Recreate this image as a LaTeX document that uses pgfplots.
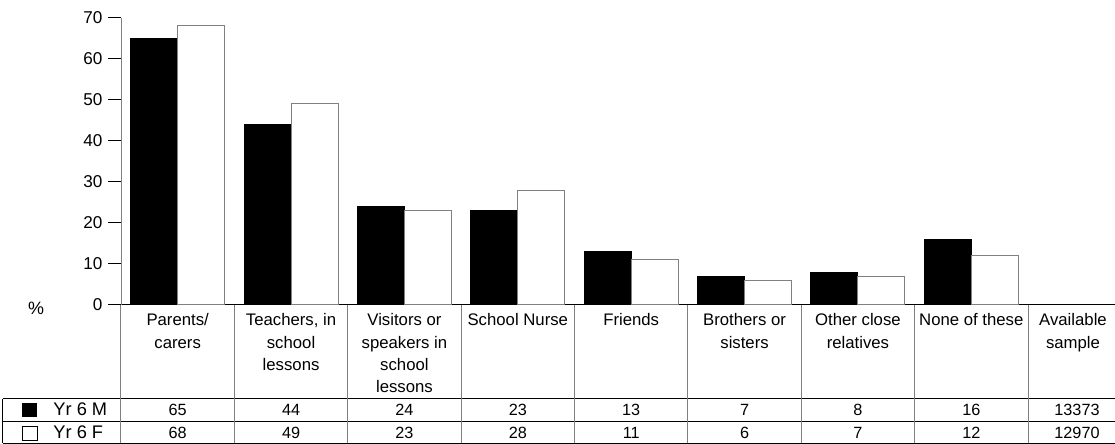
\documentclass[border=0pt]{standalone}
\usepackage{pgfplots}
\pgfplotsset{compat=1.18}
\usepackage{fontspec}
\setmainfont{Liberation Sans}
\usetikzlibrary{calc}

\newcommand\hf{\fontsize{16.8}{19}\selectfont}
\newcommand\nf{\fontsize{16.3}{18}\selectfont}
% header line: column index, line number, text
\newcommand\hdr[3]{\node[anchor=base, inner sep=0pt, font=\hf] at ({121+113.375*(#1+0.5)},{326+22.3*#2}) {#3};}

\begin{document}
\begin{tikzpicture}
\begin{axis}[
    name=ax,
    scale only axis,
    width=994bp, height=287.3bp,
    xmin=0, xmax=8.767,
    ymin=0, ymax=70,
    ybar=0pt, bar width=47bp,
    axis lines*=left,
    x axis line style={black, line width=1bp},
    y axis line style={gray, line width=1bp},
    xtick=\empty,
    ytick={0,10,...,70},
    tick align=outside,
    major tick length=13bp,
    tick style={black, line width=1bp},
    yticklabel style={font=\fontsize{17.2}{19}\selectfont, xshift=-2bp,
      /pgf/number format/assume math mode=true},
    clip=false,
  ]
  % Yr 6 M
  \addplot[fill=black, draw=black, line width=1bp] coordinates {
    (0.5,65) (1.5,44) (2.5,24) (3.5,23) (4.5,13) (5.5,7) (6.5,8) (7.5,16)};
  % Yr 6 F
  \addplot[fill=white, draw=gray, line width=1bp] coordinates {
    (0.5,68) (1.5,49) (2.5,23) (3.5,28) (4.5,11) (5.5,6) (6.5,7) (7.5,12)};
\end{axis}

% table below the axis, in pixel coordinates of the reference (y down)
\coordinate (O) at ($(ax.south west)+(-121bp,305bp)$);
\begin{scope}[shift={(O)}, x=1bp, y=-1bp, line width=1bp]
  \draw (3,399) -- (1115,399);
  \draw (3,422) -- (1115,422);
  \draw (3,443.5) -- (1115,443.5);
  \draw (3,399) -- (3,443.5);
  \draw[gray] (121,305) -- (121,443.5);
  \foreach \k in {1,...,8}
    \draw[gray] ({121+113.375*\k},305) -- ({121+113.375*\k},443.5);

  \hdr{0}{0}{Parents/}      \hdr{0}{1}{carers}
  \hdr{1}{0}{Teachers, in}  \hdr{1}{1}{school}      \hdr{1}{2}{lessons}
  \hdr{2}{0}{Visitors or}   \hdr{2}{1}{speakers in} \hdr{2}{2}{school} \hdr{2}{3}{lessons}
  \hdr{3}{0}{School Nurse}
  \hdr{4}{0}{Friends}
  \hdr{5}{0}{Brothers or}   \hdr{5}{1}{sisters}
  \hdr{6}{0}{Other close}   \hdr{6}{1}{relatives}
  \hdr{7}{0}{None of these}
  \node[anchor=base, inner sep=0pt, font=\hf] at (1073,326) {Available};
  \node[anchor=base, inner sep=0pt, font=\hf] at (1073,348.3) {sample};

  \node[font=\fontsize{18}{20}\selectfont, inner sep=0pt] at (36,308) {\%};

  % legend cells
  \fill[black] (22,403) rectangle (37,417);
  \draw[line width=0.8bp] (22,426) rectangle (37,440);
  \node[anchor=base west, inner sep=0pt, font=\fontsize{18.3}{20}\selectfont] at (53,416) {Yr 6 M};
  \node[anchor=base west, inner sep=0pt, font=\fontsize{18.3}{20}\selectfont] at (53,439) {Yr 6 F};

  \foreach \v [count=\i from 0] in {65,44,24,23,13,7,8,16}
    \node[anchor=base, inner sep=0pt, font=\nf] at ({121+113.375*(\i+0.5)},416) {\v};
  \foreach \v [count=\i from 0] in {68,49,23,28,11,6,7,12}
    \node[anchor=base, inner sep=0pt, font=\nf] at ({121+113.375*(\i+0.5)},439) {\v};
  \node[anchor=base, inner sep=0pt, font=\nf] at (1077,416) {13373};
  \node[anchor=base, inner sep=0pt, font=\nf] at (1077,439) {12970};

  \pgfresetboundingbox
  \path (0,0) rectangle (1115,444);
\end{scope}
\end{tikzpicture}
\end{document}
